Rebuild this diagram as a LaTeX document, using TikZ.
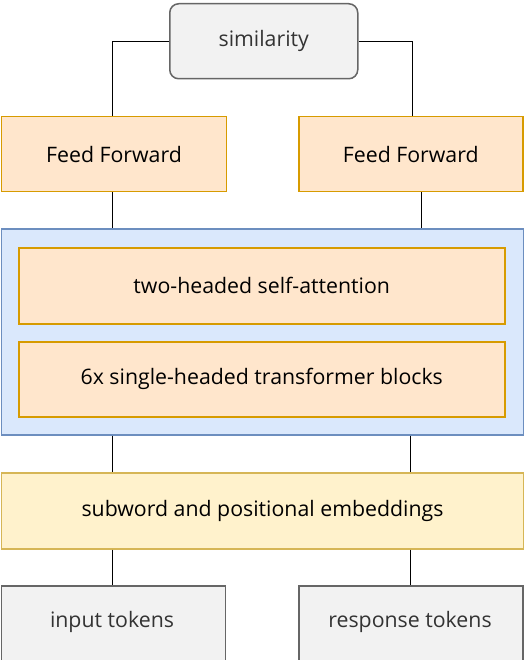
\documentclass[tikz,border=0pt]{standalone}
\usepackage{fontspec}
\setmainfont{Open Sans}
\definecolor{ofill}{HTML}{FFE6CC}
\definecolor{oline}{HTML}{D79B00}
\definecolor{bfill}{HTML}{DAE8FC}
\definecolor{bline}{HTML}{6C8EBF}
\definecolor{yfill}{HTML}{FFF2CC}
\definecolor{yline}{HTML}{D6B656}
\definecolor{gfill}{HTML}{F2F2F2}
\definecolor{gline}{HTML}{666666}
\definecolor{gtext}{HTML}{333333}
\begin{document}
\begin{tikzpicture}[x=1pt,y=-1pt,
  box/.style={draw, line width=1.5pt, font=\fontsize{21.3}{24}\selectfont},
  obox/.style={box, fill=ofill, draw=oline},
  ybox/.style={box, fill=yfill, draw=yline},
  gbox/.style={box, fill=gfill, draw=gline, text=gtext},
  wire/.style={draw=black, line width=1pt}]
\useasboundingbox (0,0) rectangle (526,660);
\node[gbox, rounded corners=9pt, minimum width=188pt, minimum height=75pt, anchor=north west] (sim) at (169,3) {similarity};
\node[obox, minimum width=225pt, minimum height=75pt, anchor=north west] (ffl) at (0.75,116) {Feed Forward};
\node[obox, minimum width=224pt, minimum height=75pt, anchor=north west] (ffr) at (298,116) {Feed Forward};
\node[box, fill=bfill, draw=bline, minimum width=522pt, minimum height=206pt, anchor=north west] (blue) at (0.75,228) {};
\node[obox, minimum width=486pt, minimum height=76pt, anchor=north west] (att) at (18,247) {two-headed self-attention};
\node[obox, minimum width=486pt, minimum height=75pt, anchor=north west] (tb) at (18,341) {6x single-headed transformer blocks};
\node[ybox, minimum width=522pt, minimum height=76pt, anchor=north west] (emb) at (0.75,472) {subword and positional embeddings};
\node[gbox, minimum width=224pt, minimum height=80pt, anchor=north west] (in) at (0.75,585) {};
\node[text=gtext, font=\fontsize{21.3}{24}\selectfont] at (112,622) {input tokens};
\node[gbox, minimum width=224pt, minimum height=80pt, anchor=north west] (resp) at (298,585) {};
\node[text=gtext, font=\fontsize{21.3}{24}\selectfont] at (410,622) {response tokens};
\draw[wire] (sim.west) -| (ffl.north -| 112,0);
\draw[wire] (sim.east) -| (ffr.north -| 412,0);
\draw[wire] (ffl.south -| 112,0) -- (blue.north -| 112,0);
\draw[wire] (ffr.south -| 421,0) -- (blue.north -| 421,0);
\draw[wire] (blue.south -| 112,0) -- (emb.north -| 112,0);
\draw[wire] (blue.south -| 410,0) -- (emb.north -| 410,0);
\draw[wire] (emb.south -| 112,0) -- (in.north -| 112,0);
\draw[wire] (emb.south -| 410,0) -- (resp.north -| 410,0);
\end{tikzpicture}
\end{document}
